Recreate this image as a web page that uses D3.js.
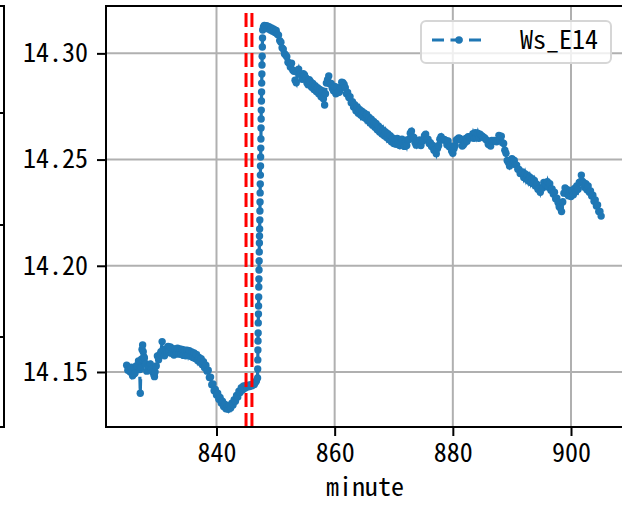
<!DOCTYPE html>
<html><head><meta charset="utf-8">
<script src="https://cdn.jsdelivr.net/npm/d3@7"></script>
<style>body{margin:0;background:#fff}svg{display:block}</style>
</head><body>
<script>
// ---- data (minute, Ws_E14) ----
const lowMinutes = [
824.8,825.0,825.2,825.4,825.6,825.8,826.0,826.2,826.4,826.6,826.8,
827.0,827.1,827.2,827.3,827.4,827.5,827.6,827.7,827.8,827.9,
828.0,828.2,828.4,828.6,828.8,829.0,829.2,829.4,829.5,829.6,829.8,
830.0,830.2,830.4,830.6,830.8,831.0,831.2,831.4,831.6,831.8,
832.0,832.2,832.4,832.6,832.8,833.0,833.2,833.4,833.6,833.8,
834.0,834.2,834.4,834.6,834.8,835.0,835.2,835.4,835.6,835.8,
836.0,836.2,836.4,836.6,836.8,837.0,837.2,837.4,837.6,837.8,
838.0,838.2,838.4,838.6,838.8,839.0,839.2,839.4,839.6,839.8,
840.0,840.2,840.4,840.6,840.8,841.0,841.2,841.4,841.6,841.8,
842.0,842.2,842.4,842.6,842.8,843.0,843.2,843.4,843.6,843.8,
844.0,844.2,844.4,844.6,844.8,845.0,845.2,845.4,845.6,845.8,
846.0,846.2,846.4,846.6,846.75
];
const lowValues = [
14.1532,14.1508,14.1510,14.1500,14.1522,14.1482,14.1490,14.1494,14.1528,14.1528,14.1552,
14.1512,14.1400,14.1518,14.1560,14.1606,14.1627,14.1595,14.1572,14.1566,14.1541,
14.1537,14.1504,14.1528,14.1530,14.1538,14.1512,14.1500,14.1488,14.1478,14.1500,14.1528,
14.1575,14.1558,14.1582,14.1595,14.1643,14.1606,14.1576,14.1608,14.1590,14.1620,
14.1598,14.1618,14.1588,14.1610,14.1580,14.1608,14.1588,14.1612,14.1584,14.1608,
14.1584,14.1606,14.1578,14.1602,14.1576,14.1602,14.1580,14.1600,14.1574,14.1594,
14.1568,14.1590,14.1564,14.1582,14.1554,14.1570,14.1546,14.1562,14.1534,14.1548,
14.1520,14.1532,14.1504,14.1508,14.1474,14.1476,14.1440,14.1444,14.1412,14.1418,
14.1392,14.1400,14.1372,14.1380,14.1354,14.1363,14.1338,14.1348,14.1327,14.1338,
14.1324,14.1341,14.1330,14.1353,14.1344,14.1370,14.1362,14.1390,14.1382,14.1410,
14.1404,14.1426,14.1415,14.1434,14.1423,14.1436,14.1429,14.1438,14.1432,14.1440,
14.1435,14.1444,14.1441,14.1452,14.1458
];
const riseMinutes = [
846.95,846.97,846.99,847.01,847.03,847.05,847.07,847.10,847.12,847.14,
847.16,847.18,847.20,847.22,847.24,847.26,847.28,847.30,847.33,847.35,
847.37,847.39,847.41,847.43,847.45,847.47,847.50,847.52,847.54,847.56,
847.58,847.61,847.63,847.65,847.68,847.70,847.73,847.76,847.79,847.82
];
const riseValues = [
14.1472,14.1514,14.1557,14.1604,14.1646,14.1684,14.1731,14.1773,14.1811,14.1853,
14.1900,14.1938,14.1980,14.2023,14.2065,14.2107,14.2140,14.2173,14.2216,14.2258,
14.2300,14.2343,14.2385,14.2427,14.2470,14.2512,14.2554,14.2597,14.2649,14.2691,
14.2733,14.2776,14.2818,14.2860,14.2903,14.2945,14.2987,14.3030,14.3072,14.3110
];
const highMinutes = [
847.95,848.1,848.3,848.5,848.7,848.9,849.1,849.3,849.5,849.7,
849.9,850.1,850.3,850.5,850.7,850.9,851.1,851.3,851.5,851.7,
851.9,852.1,852.3,852.5,852.7,852.9,853.1,853.3,853.5,853.7,
853.9,854.1,854.3,854.5,854.7,854.9,855.1,855.3,855.5,855.7,
855.9,856.1,856.3,856.5,856.7,856.9,857.1,857.3,857.5,857.7,
857.9,858.1,858.3,858.45,858.6,858.8,859.0,859.2,859.4,859.6,
859.8,860.0,860.2,860.4,860.6,860.8,861.0,861.2,861.4,861.6,
861.8,862.0,862.2,862.4,862.6,862.8,863.0,863.2,863.4,863.6,
863.8,864.0,864.2,864.4,864.6,864.8,865.0,865.2,865.4,865.6,
865.8,866.0,866.2,866.4,866.6,866.8,867.0,867.2,867.4,867.6,
867.8,868.0,868.2,868.4,868.6,868.8,869.0,869.2,869.4,869.6,
869.8,870.0,870.2,870.4,870.6,870.8,871.0,871.2,871.4,871.6,
871.8,872.0,872.2,872.4,872.6,872.8,873.0,873.2,873.4,873.6,
873.8,874.0,874.2,874.4,874.6,874.8,875.0,875.2,875.4,875.6,
875.8,876.0,876.2,876.4,876.6,876.8,877.0,877.2,877.4,877.6,
877.8,878.0,878.2,878.4,878.6,878.8,879.0,879.2,879.4,879.6,
879.8,880.0,880.2,880.4,880.6,880.8,881.0,881.2,881.4,881.6,
881.8,882.0,882.2,882.4,882.6,882.8,883.0,883.2,883.4,883.6,
883.8,884.0,884.2,884.4,884.6,884.8,885.0,885.2,885.4,885.6,
885.8,886.0,886.2,886.4,886.6,886.8,887.0,887.2,887.4,887.6,
887.8,888.0,888.2,888.4,888.6,888.8,889.0,889.2,889.4,889.6,
889.8,890.0,890.2,890.4,890.6,890.8,891.0,891.2,891.4,891.6,
891.8,892.0,892.2,892.4,892.6,892.8,893.0,893.2,893.4,893.6,
893.8,894.0,894.2,894.4,894.6,894.8,895.0,895.2,895.4,895.6,
895.8,896.0,896.2,896.4,896.6,896.8,897.0,897.2,897.4,897.6,
897.8,898.0,898.2,898.4,898.6,898.8,899.0,899.2,899.4,899.6,
899.8,900.0,900.2,900.4,900.6,900.8,901.0,901.2,901.4,901.6,
901.75,901.9,902.1,902.3,902.5,902.7,902.9,903.1,903.3,903.5,
903.7,903.9,904.1,904.3,904.5,904.7,904.9,905.1
];
const highValues = [
14.3124,14.3132,14.3120,14.3130,14.3116,14.3126,14.3110,14.3120,14.3104,14.3114,
14.3098,14.3108,14.3090,14.3086,14.3060,14.3052,14.3026,14.3020,14.2998,14.2992,
14.2984,14.2958,14.2954,14.2936,14.2954,14.2922,14.2916,14.2874,14.2862,14.2910,
14.2926,14.2902,14.2902,14.2878,14.2904,14.2898,14.2886,14.2862,14.2852,14.2876,
14.2868,14.2840,14.2858,14.2830,14.2848,14.2820,14.2838,14.2810,14.2830,14.2796,
14.2824,14.2786,14.2757,14.2810,14.2860,14.2876,14.2894,14.2856,14.2858,14.2836,
14.2824,14.2844,14.2810,14.2840,14.2816,14.2818,14.2836,14.2864,14.2862,14.2854,
14.2838,14.2810,14.2816,14.2792,14.2796,14.2768,14.2772,14.2748,14.2758,14.2730,
14.2748,14.2718,14.2736,14.2710,14.2728,14.2700,14.2720,14.2694,14.2712,14.2684,
14.2700,14.2672,14.2690,14.2662,14.2680,14.2652,14.2670,14.2640,14.2658,14.2630,
14.2648,14.2620,14.2638,14.2612,14.2630,14.2604,14.2622,14.2594,14.2612,14.2584,
14.2602,14.2576,14.2596,14.2572,14.2600,14.2578,14.2566,14.2586,14.2596,14.2570,
14.2562,14.2584,14.2566,14.2592,14.2596,14.2624,14.2634,14.2608,14.2604,14.2580,
14.2568,14.2588,14.2588,14.2592,14.2566,14.2586,14.2590,14.2612,14.2620,14.2594,
14.2596,14.2576,14.2580,14.2562,14.2566,14.2544,14.2546,14.2528,14.2552,14.2566,
14.2596,14.2608,14.2592,14.2596,14.2594,14.2590,14.2570,14.2588,14.2560,14.2564,
14.2540,14.2530,14.2552,14.2566,14.2592,14.2596,14.2602,14.2600,14.2592,14.2564,
14.2570,14.2578,14.2600,14.2586,14.2608,14.2606,14.2606,14.2602,14.2622,14.2600,
14.2626,14.2606,14.2624,14.2600,14.2620,14.2612,14.2610,14.2604,14.2602,14.2594,
14.2590,14.2572,14.2570,14.2564,14.2590,14.2586,14.2590,14.2588,14.2584,14.2590,
14.2614,14.2592,14.2610,14.2580,14.2576,14.2544,14.2530,14.2496,14.2486,14.2470,
14.2486,14.2504,14.2498,14.2496,14.2476,14.2474,14.2454,14.2454,14.2434,14.2438,
14.2442,14.2416,14.2434,14.2408,14.2426,14.2400,14.2418,14.2392,14.2410,14.2386,
14.2402,14.2376,14.2384,14.2360,14.2364,14.2346,14.2368,14.2366,14.2392,14.2386,
14.2378,14.2396,14.2370,14.2386,14.2356,14.2362,14.2338,14.2346,14.2316,14.2318,
14.2298,14.2278,14.2272,14.2255,14.2300,14.2342,14.2366,14.2340,14.2358,14.2330,
14.2350,14.2326,14.2356,14.2334,14.2364,14.2348,14.2376,14.2360,14.2392,14.2396,
14.2427,14.2398,14.2392,14.2370,14.2386,14.2358,14.2376,14.2346,14.2352,14.2328,
14.2332,14.2304,14.2310,14.2282,14.2286,14.2256,14.2256,14.2234
];
const minutes = lowMinutes.concat(riseMinutes, highMinutes);
const values = lowValues.concat(riseValues, highValues);

const xTicks = [840, 860, 880, 900];
const yTicks = [14.15, 14.20, 14.25, 14.30];
const eventLines = [845, 846];
const seriesName = "Ws_E14";
const xLabel = "minute";

// ---- layout ----
const W = 622, H = 506;
const L = 106, R = 624, T = 6, B = 427;
const FONT = '"Noto Sans Mono CJK SC","Noto Sans Mono CJK JP","DejaVu Sans Mono",monospace';
const FS = 26;
const BLUE = "#1f77b4";
const MR = 3.7;

const svg = d3.select("body").append("svg").attr("width", W).attr("height", H)
  .style("font-family", FONT);

const x = d3.scaleLinear().domain([821.3, 908.97]).range([L, R]);
const y = d3.scaleLinear().domain([14.1241, 14.3223]).range([B, T]);

// neighbouring (cut-off) subplot frame on the far left
const lf = svg.append("g").attr("stroke", "#000").attr("stroke-width", 2).attr("fill", "none");
lf.append("path").attr("d", `M0,${T}H4V${B}H0`);
[113, 225, 337].forEach(v => lf.append("line").attr("x1", 0).attr("x2", 4).attr("y1", v).attr("y2", v));

// grid
const grid = svg.append("g").attr("stroke", "#b0b0b0").attr("stroke-width", 2);
xTicks.forEach(t => grid.append("line").attr("x1", x(t)).attr("x2", x(t)).attr("y1", T).attr("y2", B));
yTicks.forEach(t => grid.append("line").attr("x1", L).attr("x2", R).attr("y1", y(t)).attr("y2", y(t)));

// data
const n = Math.min(minutes.length, values.length);
const pts = d3.range(n).map(i => [minutes[i], values[i]]);
svg.append("clipPath").attr("id", "clip").append("rect")
  .attr("x", L).attr("y", T).attr("width", R - L).attr("height", B - T);
const plot = svg.append("g").attr("clip-path", "url(#clip)");
plot.append("path").datum(pts)
  .attr("d", d3.line().x(d => x(d[0])).y(d => y(d[1])))
  .attr("fill", "none").attr("stroke", BLUE).attr("stroke-width", 3.2)
  .attr("stroke-dasharray", "12,6.5");
plot.selectAll("circle").data(pts).join("circle")
  .attr("cx", d => x(d[0])).attr("cy", d => y(d[1])).attr("r", MR).attr("fill", BLUE);

// event lines
eventLines.forEach(e => plot.append("line")
  .attr("x1", x(e)).attr("x2", x(e)).attr("y1", B).attr("y2", T)
  .attr("stroke", "#ff0000").attr("stroke-width", 3).attr("stroke-dasharray", "14,6"));

// axes
const ax = svg.append("g").attr("transform", `translate(0,${B})`)
  .call(d3.axisBottom(x).tickValues(xTicks).tickFormat(d3.format("d")).tickSize(9).tickPadding(8));
const ay = svg.append("g").attr("transform", `translate(${L},0)`)
  .call(d3.axisLeft(y).tickValues(yTicks).tickFormat(d3.format(".2f")).tickSize(9).tickPadding(9));
[ax, ay].forEach(g => {
  g.select(".domain").remove();
  g.selectAll(".tick line").attr("stroke", "#000").attr("stroke-width", 2);
  g.selectAll(".tick text").attr("fill", "#000").style("font-family", FONT).style("font-size", FS + "px");
});

// spines
svg.append("rect").attr("x", L).attr("y", T).attr("width", R - L).attr("height", B - T)
  .attr("fill", "none").attr("stroke", "#000").attr("stroke-width", 2);

// x label
svg.append("text").attr("x", (L + R) / 2).attr("y", 496).attr("text-anchor", "middle")
  .style("font-size", FS + "px").text(xLabel);

// legend
const lg = svg.append("g");
lg.append("rect").attr("x", 421).attr("y", 21).attr("width", 190).attr("height", 42).attr("rx", 5)
  .attr("fill", "#fff").attr("fill-opacity", 0.8).attr("stroke", "#d6d6d6").attr("stroke-width", 2);
lg.append("line").attr("x1", 432).attr("x2", 486).attr("y1", 40).attr("y2", 40)
  .attr("stroke", BLUE).attr("stroke-width", 3.2).attr("stroke-dasharray", "12,6.5");
lg.append("circle").attr("cx", 459).attr("cy", 40).attr("r", MR).attr("fill", BLUE);
lg.append("text").attr("x", 520).attr("y", 49).style("font-size", FS + "px").text(seriesName);
</script>
</body></html>
